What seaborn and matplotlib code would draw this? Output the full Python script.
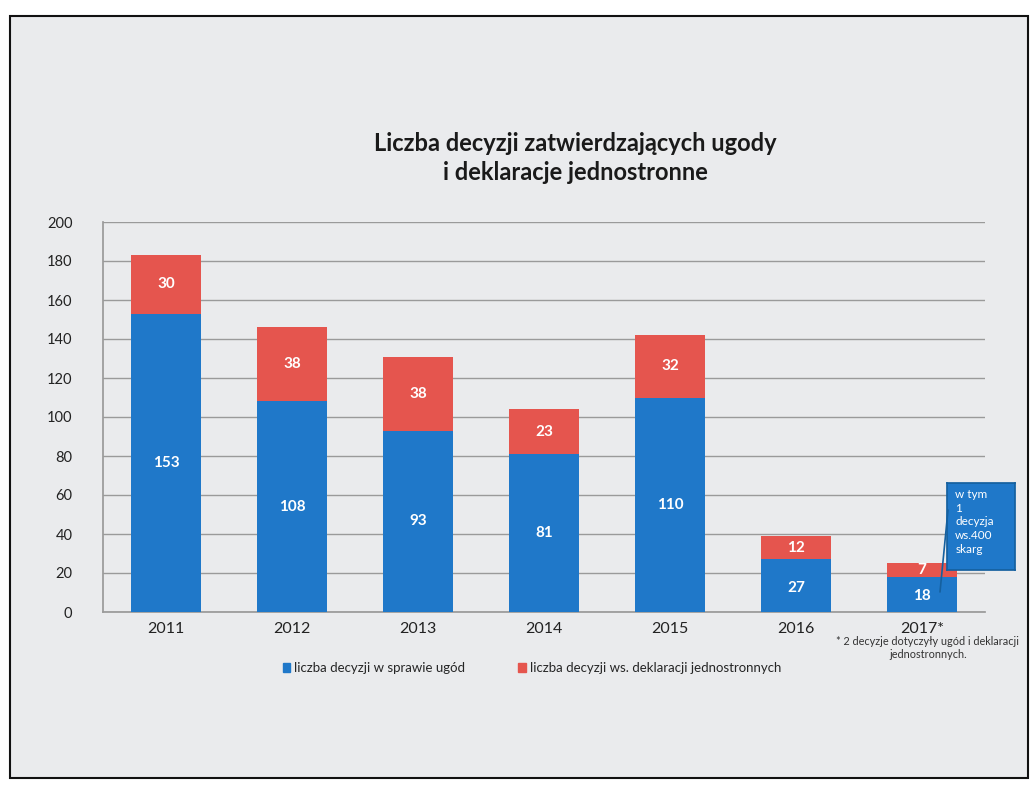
import matplotlib
matplotlib.use("Agg")
import matplotlib.pyplot as plt
import matplotlib.patches as mpatches
import matplotlib.lines as mlines
import seaborn as sns
import pandas as pd

years = ["2011", "2012", "2013", "2014", "2015", "2016", "2017*"]
ugody = [153, 108, 93, 81, 110, 27, 18]
jednostronne = [30, 38, 38, 23, 32, 12, 7]
yticks = [0, 20, 40, 60, 80, 100, 120, 140, 160, 180, 200]

title = "Liczba decyzji zatwierdzających ugody\ni deklaracje jednostronne"
label_ugody = "liczba decyzji w sprawie ugód"
label_jedn = "liczba decyzji ws. deklaracji jednostronnych"
callout = "w tym\n1\ndecyzja\nws.400\nskarg"
footnote = "* 2 decyzje dotyczyły ugód i deklaracji\njednostronnych."

blue = "#1f78c9"
red = "#e5554e"
bg = "#eaebed"

sns.set_theme(style="white")
plt.rcParams['font.family'] = ['Lato', 'DejaVu Sans']

df = pd.DataFrame({"rok": years, "ugody": ugody, "jedn": jednostronne})
df["suma"] = df["ugody"] + df["jedn"]

fig = plt.figure(figsize=(10.30, 7.91), dpi=100, facecolor="white")
# page frame (behind everything)
frame = mpatches.Rectangle((10/1030, 1 - 778/791), 1018/1030, (778-16)/791,
                           transform=fig.transFigure, facecolor=bg,
                           edgecolor="#111111", linewidth=1.5, zorder=-10)
fig.add_artist(frame)

ax = fig.add_axes([103/1030, 1 - 612/791, (985-103)/1030, (612-222)/791])
ax.set_facecolor(bg)

sns.barplot(data=df, x="rok", y="suma", color=red, width=0.56, ax=ax,
            saturation=1, linewidth=0, edgecolor="none", zorder=2)
sns.barplot(data=df, x="rok", y="ugody", color=blue, width=0.56, ax=ax,
            saturation=1, linewidth=0, edgecolor="none", zorder=3)

ax.set_ylim(0, 200)
ax.set_yticks(yticks)
ax.set_yticklabels([str(t) for t in yticks], fontsize=10.5, color="#222222")
ax.set_xticks(range(len(years)))
ax.set_xticklabels(years, fontsize=11.5, color="#222222")
ax.set_xlabel("")
ax.set_ylabel("")
ax.grid(axis="y", color="#9a9a9a", linewidth=1.0, zorder=0)
ax.set_axisbelow(True)
for s in ["top", "right"]:
    ax.spines[s].set_visible(False)
ax.spines["left"].set_color("#9a9a9a")
ax.spines["bottom"].set_color("#9a9a9a")
ax.tick_params(axis="y", length=8, color="#9a9a9a", pad=14)
ax.tick_params(axis="x", length=0, pad=7)

for i, (u, j) in enumerate(zip(ugody, jednostronne)):
    ax.text(i, u / 2 if u > 30 else u / 2 - 1, str(u), ha="center", va="center",
            color="white", fontsize=11, fontweight="bold", zorder=5)
    ax.text(i, u + j / 2, str(j), ha="center", va="center",
            color="white", fontsize=11, fontweight="bold", zorder=5)

# title
fig.text(575/1030, 1 - 158/791, title, ha="center", va="center",
         fontsize=17, fontweight="bold", color="#1a1a1a", linespacing=1.35)

# legend
handles = [mpatches.Patch(color=blue, label=label_ugody),
           mpatches.Patch(color=red, label=label_jedn)]
fig.legend(handles=handles, loc="center", bbox_to_anchor=(532/1030, 1 - 668/791),
           ncol=2, frameon=False, fontsize=9.5, handlelength=0.6, handleheight=0.6,
           handletextpad=0.3, columnspacing=4)

# callout box
cax = fig.add_axes([947/1030, 1 - 570/791, (1015-947)/1030, (570-483)/791])
cax.set_facecolor(blue)
for s in cax.spines.values():
    s.set_color("#15609f")
cax.set_xticks([])
cax.set_yticks([])
cax.text(0.12, 0.93, callout, ha="left", va="top", color="white",
         fontsize=8.5, linespacing=1.3, transform=cax.transAxes)
fig.add_artist(mlines.Line2D([948/1030, 940/1030],
                             [1 - 510/791, 1 - 592/791],
                             transform=fig.transFigure,
                             color="#15609f", linewidth=1.2, zorder=10))

# footnote
fig.text(928/1030, 1 - 648/791, footnote, ha="center", va="center",
         fontsize=7.8, color="#333333", multialignment="center",
         linespacing=1.25)

fig.savefig("out.png", dpi=100, facecolor="white")
